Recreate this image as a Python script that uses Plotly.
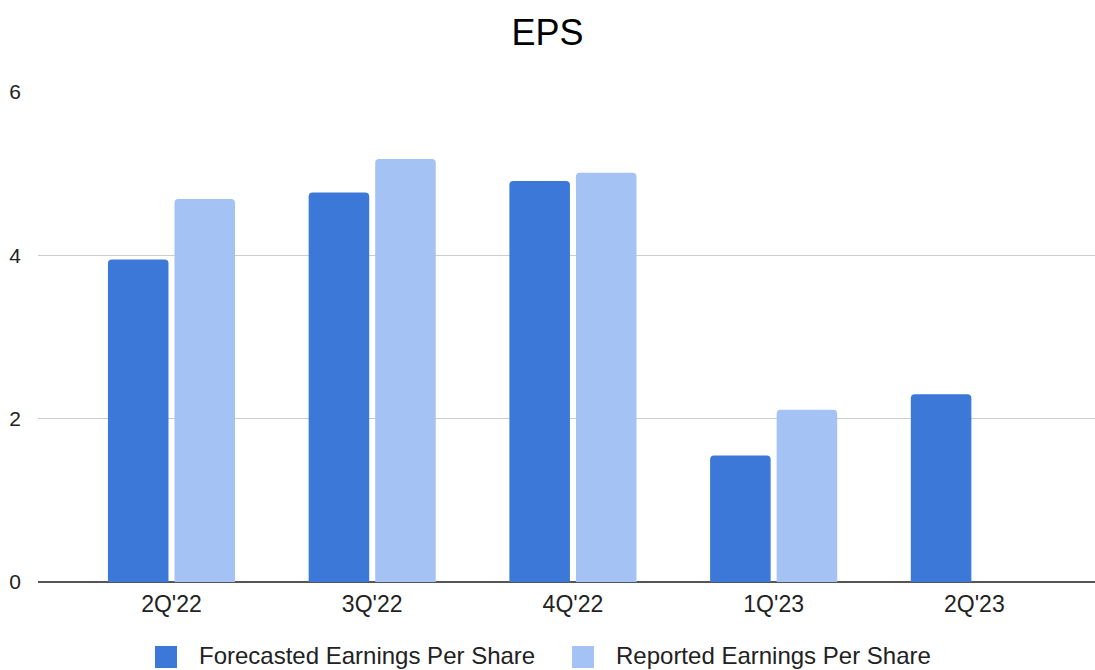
import plotly.graph_objects as go

quarters = ["2Q'22", "3Q'22", "4Q'22", "1Q'23", "2Q'23"]
forecast_eps = [3.95, 4.77, 4.91, 1.55, 2.30]
reported_eps = [4.69, 5.18, 5.01, 2.11, None]
y_ticks = [0, 2, 4, 6]

forecast_color = "#3c78d8"
reported_color = "#a4c2f4"
font_family = "Liberation Sans, Arial, sans-serif"

fig = go.Figure()
fig.add_trace(go.Bar(
    name="Forecasted Earnings Per Share", x=quarters, y=forecast_eps,
    marker=dict(color=forecast_color, cornerradius=4, line=dict(width=0)),
    showlegend=False,
))
fig.add_trace(go.Bar(
    name="Reported Earnings Per Share", x=quarters, y=reported_eps,
    marker=dict(color=reported_color, cornerradius=4, line=dict(width=0)),
    showlegend=False,
))

# legend drawn below the axis as swatches + labels
legend_items = [
    ("Forecasted Earnings Per Share", forecast_color, 0.1107, 0.1504),
    ("Reported Earnings Per Share", reported_color, 0.5052, 0.5450),
]
for label, color, x0, tx in legend_items:
    fig.add_shape(type="rect", xref="paper", yref="paper",
                  x0=x0, x1=x0 + 0.0208, y0=-0.1306, y1=-0.1755,
                  fillcolor=color, line=dict(width=0), layer="above")
    fig.add_annotation(text=label, xref="paper", yref="paper",
                       x=tx, y=-0.1500, xanchor="left", yanchor="middle",
                       showarrow=False,
                       font=dict(family=font_family, size=24, color="#222222"))

fig.update_layout(
    width=1095, height=670,
    margin=dict(l=38, r=0, t=92, b=88, autoexpand=False),
    paper_bgcolor="white", plot_bgcolor="white",
    title=dict(text="EPS", x=0.5, xref="container", y=1 - 32 / 670,
               yref="container", xanchor="center", yanchor="middle",
               font=dict(family=font_family, size=36, color="#000000")),
    barmode="group", bargap=0.337, bargroupgap=0.09,
    font=dict(family=font_family),
)
fig.update_xaxes(
    range=[-0.665, 4.601], showgrid=False, zeroline=False, showline=False,
    ticks="", tickfont=dict(size=23, color="#222222"), ticklabelstandoff=6,
)
fig.update_yaxes(
    range=[0, 6], tickvals=y_ticks, showgrid=True, gridcolor="#cccccc",
    gridwidth=1, zeroline=True, zerolinecolor="#555555", zerolinewidth=2,
    showline=False, ticks="", tickfont=dict(size=21, color="#222222"),
    ticklabelstandoff=16,
)

fig.write_html("out.html")
